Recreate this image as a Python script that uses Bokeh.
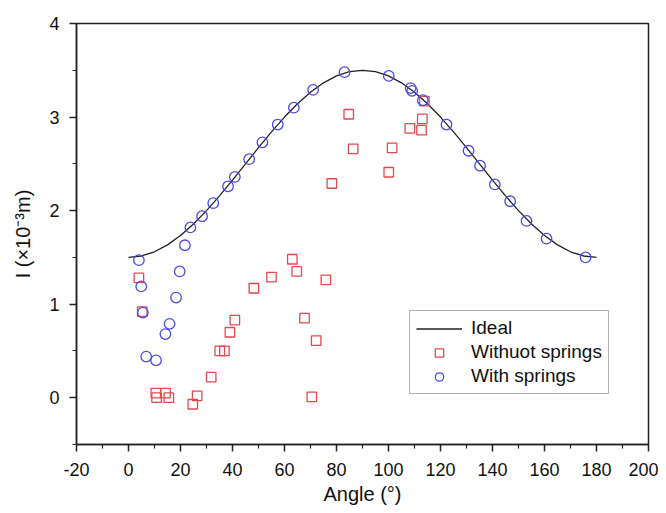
from bokeh.plotting import figure
from bokeh.embed import file_html
from bokeh.resources import INLINE
from bokeh.models import Legend, LegendItem, Range1d, FixedTicker

# Ideal curve
ideal_angle = [0, 5, 10, 15, 20, 25, 30, 35, 40, 45, 50, 55, 60, 65, 70, 75, 80, 85, 90,
               95, 100, 105, 110, 115, 120, 125, 130, 135, 140, 145, 150, 155, 160, 165, 170, 175, 180]
ideal_l = [1.50, 1.515, 1.56, 1.634, 1.734, 1.857, 2.00, 2.158, 2.326, 2.50, 2.674, 2.842, 3.00,
           3.143, 3.266, 3.366, 3.44, 3.485, 3.50,
           3.485, 3.44, 3.366, 3.266, 3.143, 3.00, 2.842, 2.674, 2.50, 2.326, 2.158, 2.00,
           1.857, 1.734, 1.634, 1.56, 1.515, 1.50]

# Without springs
wo_angle = [4.0, 5.3, 10.5, 10.8, 14.2, 15.5, 24.7, 26.4, 31.8, 35.1, 36.9, 39.0, 40.9, 48.2,
            55.0, 63.0, 64.7, 67.7, 70.5, 72.2, 75.9, 78.2, 84.7, 86.4, 100.1, 101.4, 108.2,
            112.7, 113.0, 113.8]
wo_l = [1.28, 0.92, 0.05, 0.00, 0.05, 0.00, -0.07, 0.02, 0.22, 0.50, 0.50, 0.70, 0.83, 1.17,
        1.29, 1.48, 1.35, 0.85, 0.01, 0.61, 1.26, 2.29, 3.03, 2.66, 2.41, 2.67, 2.88,
        2.86, 2.98, 3.17]

# With springs
w_angle = [4.0, 4.9, 5.5, 6.8, 10.6, 14.2, 15.8, 18.3, 19.7, 21.7, 23.8, 28.3, 32.6, 38.3,
           40.9, 46.4, 51.5, 57.4, 63.6, 71.0, 83.1, 100.1, 108.5, 109.1, 113.2, 122.3,
           130.8, 135.2, 140.9, 146.8, 153.1, 160.8, 175.8]
w_l = [1.47, 1.19, 0.91, 0.44, 0.40, 0.68, 0.79, 1.07, 1.35, 1.63, 1.82, 1.94, 2.08, 2.26,
       2.36, 2.55, 2.73, 2.92, 3.10, 3.29, 3.48, 3.44, 3.31, 3.28, 3.18, 2.92,
       2.64, 2.48, 2.28, 2.10, 1.89, 1.70, 1.50]

x_ticks = [-20, 0, 20, 40, 60, 80, 100, 120, 140, 160, 180, 200]
x_tick_labels = ["-20", "0", "20", "40", "60", "80", "100", "120", "140", "160", "180", "200"]
y_ticks = [0, 1, 2, 3, 4]

FONT = "Liberation Sans"

p = figure(frame_width=572, frame_height=421, output_backend="svg", toolbar_location=None,
           x_range=Range1d(-20, 200), y_range=Range1d(-0.5, 4),
           min_border_left=76, min_border_top=23, min_border_right=10, min_border_bottom=62,
           background_fill_color="white", border_fill_color="white")

p.xgrid.visible = False
p.ygrid.visible = False
p.outline_line_color = "#222222"
p.outline_line_width = 1.5

l_ideal = p.line(ideal_angle, ideal_l, line_color="#222222", line_width=1.3)
r_wo = p.scatter(wo_angle, wo_l, marker="square", size=9.5, fill_color=None,
                 line_color="#e5484f", line_width=1.3)
r_w = p.scatter(w_angle, w_l, marker="circle", size=10.5, fill_color=None,
                line_color="#4a4ae6", line_width=1.3)

for ax in (p.xaxis[0], p.yaxis[0]):
    ax.axis_line_width = 1.5
    ax.axis_line_color = "#222222"
    ax.major_tick_line_color = "#222222"
    ax.minor_tick_line_color = "#222222"
    ax.major_tick_line_width = 1.5
    ax.minor_tick_line_width = 1.2
    ax.major_tick_out = 7
    ax.major_tick_in = 0
    ax.minor_tick_out = 4
    ax.minor_tick_in = 0
    ax.major_label_text_font = FONT
    ax.major_label_text_font_size = "18px"
    ax.major_label_text_color = "#111111"
    ax.axis_label_text_font = FONT
    ax.axis_label_text_font_size = "20px"
    ax.axis_label_text_font_style = "normal"
    ax.axis_label_text_color = "#111111"

p.xaxis.major_label_standoff = 11
p.yaxis.major_label_standoff = 10
p.xaxis.ticker = FixedTicker(ticks=x_ticks, minor_ticks=[v + 10 for v in x_ticks[:-1]])
p.xaxis.major_label_overrides = {t: s for t, s in zip(x_ticks, x_tick_labels)}
p.yaxis.ticker = FixedTicker(ticks=y_ticks, minor_ticks=[-0.5, 0.5, 1.5, 2.5, 3.5])
p.xaxis.axis_label = "Angle (°)"
p.yaxis.axis_label = "I (×10⁻³m)"
p.xaxis.axis_label_standoff = 4
p.yaxis.axis_label_standoff = 12

legend = Legend(items=[
    LegendItem(label="Ideal", renderers=[l_ideal]),
    LegendItem(label="Withuot springs", renderers=[r_wo]),
    LegendItem(label="With springs", renderers=[r_w]),
], location=(333, 50))
legend.label_text_font = FONT
legend.label_text_font_size = "19px"
legend.label_text_color = "#111111"
legend.glyph_width = 46
legend.glyph_height = 21
legend.label_height = 21
legend.label_standoff = 9
legend.spacing = 2
legend.padding = 6
legend.margin = 0
legend.border_line_color = "#666666"
legend.border_line_width = 1.2
legend.background_fill_color = "white"
legend.background_fill_alpha = 1
p.add_layout(legend)

open("out.html", "w").write(file_html(p, INLINE))
